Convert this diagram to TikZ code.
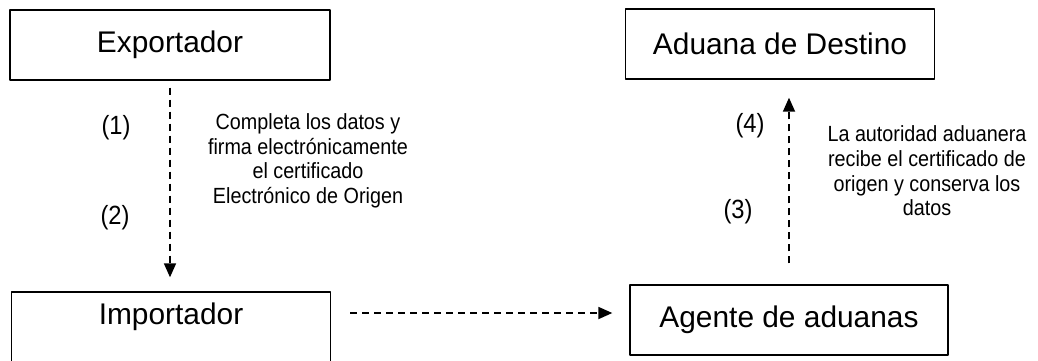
\documentclass[tikz,border=0pt]{standalone}
\usepackage{fontspec}
\setmainfont{Liberation Sans}
\newfontfamily\estrecha[FakeStretch=0.9]{Liberation Sans}
\usetikzlibrary{arrows.meta}
\begin{document}
\begin{tikzpicture}[x=0.02cm,y=-0.02cm,>={Triangle[length=2.8mm,width=2.4mm]},
    line join=round,
    caja/.style={draw,line width=0.8pt,minimum height=1.4cm,font=\fontsize{17}{20}\selectfont},
    flecha/.style={->,line width=1pt,dash pattern=on 1.4mm off 1mm},
    paso/.style={font=\estrecha\fontsize{15}{17}\selectfont},
    nota/.style={align=center,font=\estrecha\fontsize{12.5}{14}\selectfont}]
    \useasboundingbox (0,0) rectangle (1038,360);
    % cajas
    \node[caja,minimum width=6.4cm] (exp) at (170,45) {Exportador};
    \node[caja,minimum width=6.18cm] (ad) at (780,44) {Aduana de Destino};
    \node[caja,minimum width=6.38cm,text depth=0.55cm] (imp) at (171,327) {Importador};
    \node[caja,minimum width=6.36cm] (ag) at (789,320) {Agente de aduanas};
    % flechas
    \coordinate (h) at (0,313);
    \draw[flecha,shorten <=0.14cm,shorten >=0.28cm] (exp.south) -- (exp.south |- imp.north);
    \draw[flecha,shorten <=0.38cm,shorten >=0.34cm] (imp.east |- h) -- (ag.west |- h);
    \draw[flecha,shorten <=0.42cm,shorten >=0.36cm] (ag.north) -- (ag.north |- ad.south);
    % pasos
    \node[paso] (p1) at (116,128) {(1)};
    \node[paso] (p2) at (115,218) {(2)};
    \node[paso] (p4) at (750,126) {(4)};
    \node[paso] (p3) at (738,212) {(3)};
    % notas
    \node[nota] (n1) at (308,161) {Completa los datos y\\firma electrónicamente\\el certificado\\Electrónico de Origen};
    \node[nota] (n2) at (927,171) {La autoridad aduanera\\recibe el certificado de\\origen y conserva los\\datos};
\end{tikzpicture}
\end{document}
